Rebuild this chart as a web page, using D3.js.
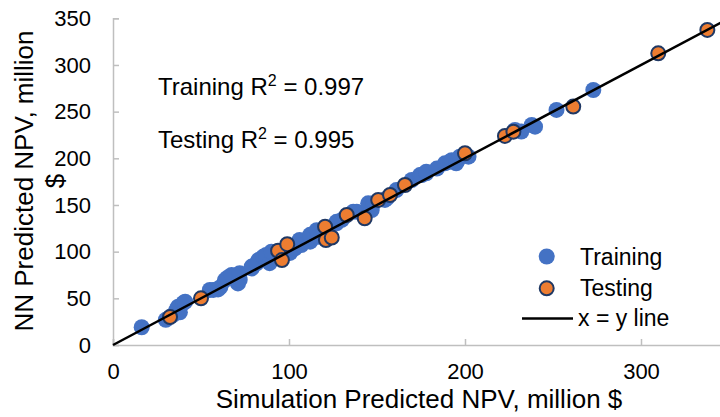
<!DOCTYPE html>
<html>
<head>
<meta charset="utf-8">
<script src="https://cdn.jsdelivr.net/npm/d3@7"></script>
<style>
  html, body { margin: 0; padding: 0; background: #fff; }
  svg { display: block; font-family: "Liberation Sans", Arial, sans-serif; }
</style>
</head>
<body>
<svg id="chart" width="720" height="417"></svg>
<script>
// Training set: [simulation NPV, NN-predicted NPV] in million $
const trainingSim = [16.3, 30, 34, 36, 37, 38, 40, 41, 55, 57, 59.7, 61, 63.6, 65, 67.4, 71, 72, 72,
  78.8, 78.8, 81.6, 82.6, 85.4, 87, 87, 89, 90, 100.6, 103.4, 106, 107, 112, 112, 115.7, 116.6,
  127, 127, 130, 136.5, 138.5, 145, 147, 148, 154.5, 155.5, 161, 169.7, 174.4, 175.4, 178, 178,
  184, 188.6, 191.5, 192.4, 195, 196, 197, 202, 228.4, 232, 237.9, 239.8, 252, 272.9];
const trainingNN = [19, 27, 32, 37.5, 41, 35, 45, 46.4, 59, 59, 59.5, 62, 69.6, 72, 75, 66, 70, 77,
  82, 84, 87.5, 91, 94.6, 93, 96.4, 87.7, 100, 98.6, 103.6, 112.5, 107, 110.7, 118, 123, 116,
  130.4, 132, 134, 142.8, 142.8, 151.8, 144.6, 151.8, 155.4, 157, 166, 176.8, 182, 182, 184, 185.7,
  189, 194.6, 196.4, 198, 194.6, 198, 201.8, 201.8, 230.4, 228.6, 235.7, 233.9, 251.8, 273.2];

// Testing set
const testingSim = [32.4, 50, 93.8, 96, 99, 120.5, 121, 124.3, 132.8, 143, 150.7, 157.4, 165.9,
  200, 222.7, 227.5, 261.5, 309.8, 337.7];
const testingNN = [30, 50, 101, 91, 108, 126.8, 112.5, 115.2, 139.3, 135.7, 155.4, 160.7, 171.4,
  205.4, 224, 228.5, 255.4, 312.5, 337.5];

const xTicks = [0, 100, 200, 300];
const yTicks = [0, 50, 100, 150, 200, 250, 300, 350];
const axisMax = 350;
const fitLine = [0, 350];

const svg = d3.select("#chart");

const x = d3.scaleLinear().domain([0, axisMax]).range([113, 729]);
const y = d3.scaleLinear().domain([0, axisMax]).range([345, 18.3]);

const axisColor = "#BFBFBF";

// Y axis with inward ticks
const gy = svg.append("g")
  .attr("transform", `translate(${x(0)},0)`)
  .call(d3.axisLeft(y).tickValues(yTicks).tickSize(-6).tickPadding(22));
gy.select(".domain").attr("stroke", axisColor).attr("stroke-width", 1.5);
gy.selectAll(".tick line").attr("stroke", axisColor).attr("stroke-width", 1.5);
gy.selectAll(".tick text").attr("font-size", 22).attr("fill", "#000")
  .attr("font-family", "Liberation Sans, Arial, sans-serif");

// X axis with inward ticks
const gx = svg.append("g")
  .attr("transform", `translate(0,${y(0)})`)
  .call(d3.axisBottom(x).tickValues(xTicks).tickSize(-6).tickPadding(18));
gx.select(".domain").attr("stroke", axisColor).attr("stroke-width", 1.5);
gx.selectAll(".tick line").attr("stroke", axisColor).attr("stroke-width", 1.5);
gx.selectAll(".tick text").attr("font-size", 22).attr("fill", "#000")
  .attr("font-family", "Liberation Sans, Arial, sans-serif");

// Markers
const training = trainingSim.map((v, i) => [v, trainingNN[i]]);
const testing = testingSim.map((v, i) => [v, testingNN[i]]);

svg.append("g").selectAll("circle").data(training).join("circle")
  .attr("cx", d => x(d[0])).attr("cy", d => y(d[1])).attr("r", 8)
  .attr("fill", "#4472C4");

svg.append("g").selectAll("circle").data(testing).join("circle")
  .attr("cx", d => x(d[0])).attr("cy", d => y(d[1])).attr("r", 7)
  .attr("fill", "#ED7D31").attr("stroke", "#1F3864").attr("stroke-width", 2);

// x = y reference line
svg.append("line")
  .attr("x1", x(fitLine[0])).attr("y1", y(fitLine[0]))
  .attr("x2", x(fitLine[1])).attr("y2", y(fitLine[1]))
  .attr("stroke", "#000").attr("stroke-width", 2.5);

// Axis titles
svg.append("text")
  .attr("x", 419).attr("y", 408)
  .attr("text-anchor", "middle").attr("font-size", 26).attr("fill", "#000")
  .text("Simulation Predicted NPV, million $");

const yTitle = svg.append("text")
  .attr("transform", "translate(33,181) rotate(-90)")
  .attr("text-anchor", "middle").attr("font-size", 26).attr("fill", "#000");
yTitle.append("tspan").attr("x", 0).attr("dy", 0).text("NN Predicted NPV, million");
yTitle.append("tspan").attr("x", 0).attr("dy", 31).text("$");

// R-squared annotations
function r2Label(yPos, name, value) {
  const t = svg.append("text").attr("x", 158).attr("y", yPos)
    .attr("font-size", 24).attr("fill", "#000");
  t.append("tspan").text(name + " R");
  t.append("tspan").attr("font-size", 16).attr("dy", -9).text("2");
  t.append("tspan").attr("dy", 9).text(" = " + value);
}
r2Label(95, "Training", "0.997");
r2Label(148, "Testing", "0.995");

// Legend
const legend = svg.append("g");
legend.append("circle").attr("cx", 546.7).attr("cy", 256.5).attr("r", 8).attr("fill", "#4472C4");
legend.append("text").attr("x", 580).attr("y", 264.5).attr("font-size", 23).attr("fill", "#000").text("Training");
legend.append("circle").attr("cx", 546.7).attr("cy", 288.3).attr("r", 7)
  .attr("fill", "#ED7D31").attr("stroke", "#1F3864").attr("stroke-width", 2);
legend.append("text").attr("x", 580).attr("y", 296).attr("font-size", 23).attr("fill", "#000").text("Testing");
legend.append("line").attr("x1", 522).attr("x2", 573).attr("y1", 318.5).attr("y2", 318.5)
  .attr("stroke", "#000").attr("stroke-width", 2.5);
legend.append("text").attr("x", 578).attr("y", 326).attr("font-size", 23).attr("fill", "#000").text("x = y line");
</script>
</body>
</html>
